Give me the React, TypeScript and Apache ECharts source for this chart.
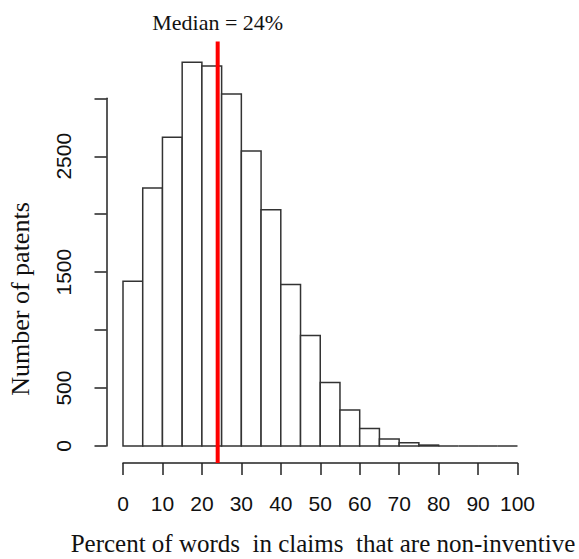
import React, { useEffect, useRef } from "react";
import * as echarts from "echarts";

const binEdges = [0, 5, 10, 15, 20, 25, 30, 35, 40, 45, 50, 55, 60, 65, 70, 75, 80, 85, 90, 95, 100];
const counts = [1421, 2227, 2663, 3310, 3279, 3038, 2545, 2038, 1393, 954, 548, 310, 152, 60, 28, 8, 0, 0, 0, 0];
const medianValue = 24;
const yLabelValues = [0, 500, 1500, 2500];
const xTitle = "Percent of words  in claims  that are non-inventive";
const yTitle = "Number of patents";
const medianTitle = "Median = 24%";

const AXIS_OFFSET_X = 17;

export default function App() {
  const ref = useRef<HTMLDivElement>(null);
  useEffect(() => {
    document.body.style.margin = "0";
    const chart = echarts.init(ref.current!, undefined, { renderer: "svg" });
    const histData = counts.map((c, i) => [binEdges[i], binEdges[i + 1], c]);
    const option: any = {
      animation: false,
      backgroundColor: "#fff",
      grid: { left: 123, right: 61.5, top: 98.3, bottom: 113 },
      xAxis: {
        type: "value",
        min: 0,
        max: 100,
        interval: 10,
        offset: AXIS_OFFSET_X,
        splitLine: { show: false },
        axisLine: { onZero: false, lineStyle: { color: "#222", width: 1.5 } },
        axisTick: { length: 12, lineStyle: { color: "#222", width: 1.5 } },
        axisLabel: { margin: 30, fontSize: 21, color: "#111", fontFamily: "Liberation Sans, Arial, sans-serif" },
      },
      yAxis: {
        type: "value",
        min: 0,
        max: 3000,
        interval: 500,
        offset: 16.5,
        splitLine: { show: false },
        axisLine: { show: true, onZero: false, lineStyle: { color: "#222", width: 1.5 } },
        axisTick: { show: true, length: 12, lineStyle: { color: "#222", width: 1.5 } },
        axisLabel: {
          rotate: 90,
          margin: 33,
          fontSize: 21,
          color: "#111",
          fontFamily: "Liberation Sans, Arial, sans-serif",
          formatter: (v: number) => (yLabelValues.includes(v) ? String(v) : ""),
        },
      },
      graphic: [
        {
          type: "text",
          x: 20,
          y: 299,
          rotation: Math.PI / 2,
          style: {
            text: yTitle,
            fontSize: 26,
            fontFamily: "Liberation Serif, Times New Roman, serif",
            fill: "#111",
            align: "center",
            verticalAlign: "middle",
          },
        },
        {
          type: "text",
          x: 323,
          y: 543,
          style: {
            text: xTitle,
            fontSize: 25,
            fontFamily: "Liberation Serif, Times New Roman, serif",
            fill: "#111",
            align: "center",
            verticalAlign: "middle",
          },
        },
      ],
      series: [
        {
          type: "custom",
          clip: false,
          data: histData,
          encode: { x: [0, 1], y: 2 },
          renderItem: (params: any, api: any) => {
            const x0 = api.value(0);
            const x1 = api.value(1);
            const c = api.value(2);
            const p0 = api.coord([x0, 0]);
            const p1 = api.coord([x1, c]);
            return {
              type: "rect",
              shape: { x: p0[0], y: p1[1], width: p1[0] - p0[0], height: p0[1] - p1[1] },
              style: { fill: "#fff", stroke: "#333", lineWidth: 1.5 },
            };
          },
        },
        {
          type: "custom",
          clip: false,
          data: [[medianValue]],
          encode: { x: 0 },
          z: 5,
          renderItem: (params: any, api: any) => {
            const m = api.value(0);
            const bottom = api.coord([m, 0]);
            const top = api.coord([m, 3490]);
            return {
              type: "group",
              children: [
                {
                  type: "line",
                  shape: { x1: bottom[0], y1: bottom[1] + AXIS_OFFSET_X, x2: top[0], y2: top[1] },
                  style: { stroke: "#ff0000", lineWidth: 4 },
                },
                {
                  type: "text",
                  x: top[0],
                  y: top[1] - 8,
                  style: {
                    text: medianTitle,
                    fontSize: 22,
                    fontFamily: "Liberation Serif, Times New Roman, serif",
                    fill: "#111",
                    align: "center",
                    verticalAlign: "bottom",
                  },
                },
              ],
            };
          },
        },
      ],
    };
    chart.setOption(option);
    return () => chart.dispose();
  }, []);
  return <div ref={ref} style={{ width: 579, height: 559 }} />;
}
